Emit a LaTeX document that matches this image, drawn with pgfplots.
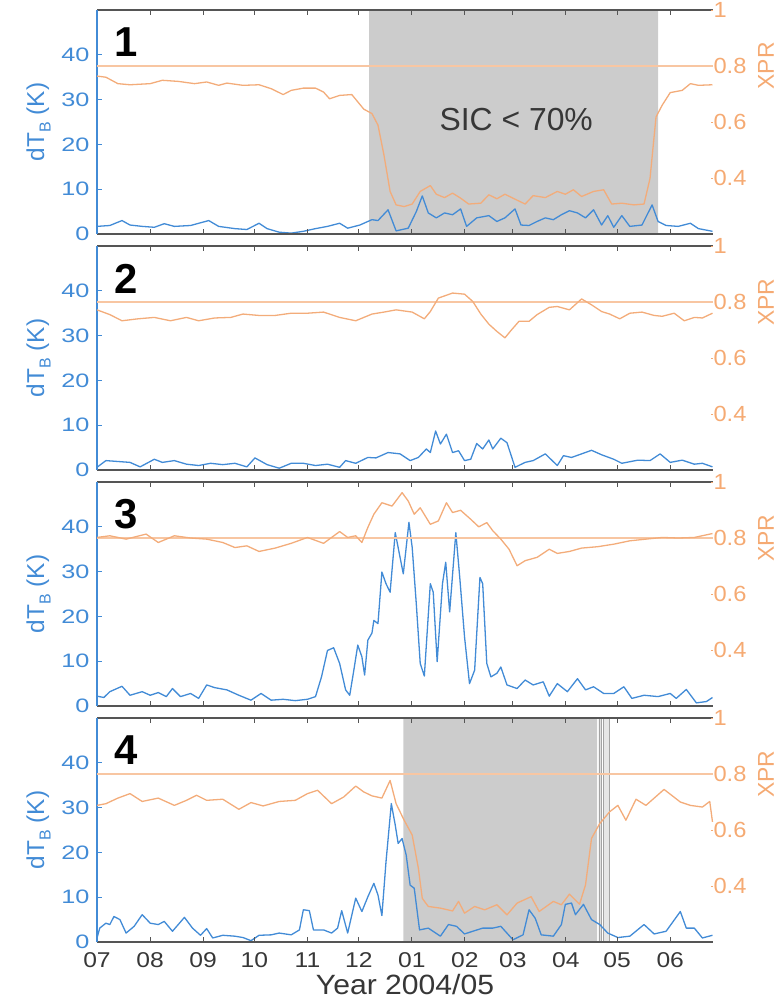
\documentclass[border=0pt]{standalone}
\usepackage{pgfplots}
\usepackage{pgfplotstable}
\pgfplotsset{compat=1.18}
\usepackage{fontspec}
\setmainfont{Liberation Sans}
\newfontfamily\tickfontA[FakeStretch=1.3]{Liberation Sans}
\newfontfamily\tickfontB[FakeStretch=1.15]{Liberation Sans}
\newfontfamily\tickfontC[FakeStretch=1.08]{Liberation Sans}
\definecolor{blueL}{RGB}{66,139,214}
\definecolor{orangeC}{RGB}{243,172,122}
\definecolor{orangeR}{RGB}{248,198,162}
\definecolor{orangeT}{RGB}{245,170,115}
\definecolor{shade}{RGB}{204,204,204}
\definecolor{framec}{RGB}{85,85,85}
\definecolor{darktext}{RGB}{55,55,55}

\pgfplotstableread{
d v
0 1.7
7.5 1.9
14.6 3.0
19.3 2.0
26.4 1.7
33.5 1.5
39.3 2.3
45.2 1.7
54.7 1.9
65.3 3.0
71.1 1.7
80.6 1.2
87.6 1.0
94.7 2.4
99.4 1.2
106.5 0.4
113.5 0.2
120.6 0.6
127.7 1.2
134.7 1.7
141.8 2.4
146.5 1.3
153.6 2.0
160.7 3.2
164.2 3.0
170.1 5.4
174.8 0.7
181.9 1.3
186.6 5.0
190.1 8.5
193.6 4.7
198.3 3.6
203.1 4.7
207.8 4.3
212.5 5.6
216.0 1.7
221.9 3.6
229.0 4.1
233.7 2.8
238.4 3.6
244.3 5.6
247.8 2.0
252.5 1.9
257.2 2.8
262.0 3.6
266.7 3.2
271.4 4.3
276.1 5.2
280.8 4.7
285.5 3.6
290.2 5.4
294.9 2.0
298.5 4.1
302.0 1.5
306.7 4.1
311.4 1.7
318.5 2.0
324.4 6.5
327.9 2.8
332.6 1.9
339.7 1.7
346.8 2.4
351.5 1.2
359.7 0.6
}\pAblue
\pgfplotstableread{
d v
0 0.764
5.2 0.760
12.2 0.737
19.3 0.733
31.1 0.737
38.2 0.749
47.6 0.745
57.0 0.737
64.1 0.743
71.1 0.731
75.9 0.739
85.3 0.731
94.7 0.733
101.8 0.719
108.8 0.698
113.5 0.713
120.6 0.721
127.7 0.721
132.4 0.707
135.9 0.683
141.8 0.695
148.9 0.698
152.4 0.672
155.9 0.646
160.7 0.630
164.2 0.589
167.7 0.482
171.3 0.352
174.8 0.304
179.5 0.298
184.2 0.307
188.9 0.352
194.8 0.373
198.3 0.342
203.1 0.330
207.8 0.346
212.5 0.328
217.2 0.307
224.3 0.310
229.0 0.340
233.7 0.326
238.4 0.342
243.1 0.328
250.2 0.307
254.9 0.337
262.0 0.330
269.0 0.352
273.7 0.342
278.4 0.358
283.2 0.334
290.2 0.352
296.1 0.358
300.8 0.307
306.7 0.310
313.8 0.304
319.7 0.307
323.2 0.399
326.7 0.618
330.3 0.660
335.0 0.705
342.0 0.713
346.8 0.737
351.5 0.731
359.7 0.733
}\pAorange
\pgfplotstableread{
d v
0 0.6
5.2 2.1
12.2 1.9
19.3 1.7
25.2 0.7
33.5 2.4
38.2 1.7
45.2 2.1
52.3 1.3
59.4 1.0
66.4 1.5
73.5 1.2
80.6 1.5
87.6 0.7
92.3 2.7
99.4 1.2
106.5 0.4
113.5 1.5
120.6 1.5
127.7 1.0
134.7 1.3
141.8 0.6
145.3 2.1
151.2 1.5
158.3 2.8
163.0 2.7
170.1 3.9
177.1 3.6
183.0 2.1
187.8 2.8
192.5 4.7
194.8 3.9
197.9 8.7
200.7 5.8
204.2 8.0
207.8 3.9
211.3 4.3
214.8 2.1
218.4 2.4
221.9 5.9
225.4 4.7
229.0 6.7
231.3 4.7
236.0 7.1
239.6 6.1
244.3 0.6
250.2 1.7
254.9 2.1
262.0 3.6
269.0 1.0
272.6 3.2
277.3 2.8
283.2 3.6
289.0 4.4
294.9 3.4
302.0 2.4
306.7 1.5
316.1 2.2
323.2 2.1
329.1 3.6
335.0 1.7
342.0 2.2
349.1 1.3
353.8 1.5
359.7 0.7
}\pBblue
\pgfplotstableread{
d v
0 0.772
7.5 0.755
14.6 0.733
24.0 0.740
33.5 0.745
42.9 0.733
52.3 0.745
59.4 0.733
68.8 0.743
78.2 0.745
85.3 0.757
94.7 0.752
104.1 0.752
113.5 0.760
123.0 0.760
132.4 0.764
141.8 0.745
151.2 0.733
160.7 0.757
167.7 0.764
174.8 0.772
184.2 0.764
191.3 0.740
194.8 0.766
199.5 0.814
207.8 0.832
214.8 0.828
219.6 0.802
224.3 0.757
229.0 0.721
233.7 0.695
238.4 0.672
241.9 0.698
246.6 0.731
252.5 0.731
257.2 0.755
264.3 0.781
269.0 0.784
276.1 0.772
283.2 0.811
289.0 0.790
294.9 0.766
299.6 0.757
305.5 0.740
311.4 0.760
318.5 0.764
325.6 0.752
330.3 0.749
337.3 0.760
343.2 0.733
349.1 0.745
353.8 0.743
359.7 0.760
}\pBorange
\pgfplotstableread{
d v
0 2.2
4.0 1.9
7.5 3.2
14.6 4.4
19.3 2.4
26.4 3.2
31.1 2.4
35.8 3.0
40.5 2.1
44.1 3.9
48.8 2.1
54.7 2.8
59.4 1.7
64.1 4.7
68.8 4.1
75.9 3.6
82.9 2.4
90.0 1.3
95.9 2.8
101.8 1.3
108.8 1.5
115.9 1.2
123.0 1.5
127.7 2.1
131.2 6.5
134.7 12.4
138.3 13.0
141.8 9.5
145.3 3.6
147.7 2.4
150.1 8.0
152.4 13.6
154.8 11.0
156.4 6.9
158.3 14.7
160.7 16.3
161.8 19.1
164.2 18.4
166.5 29.9
168.9 27.3
171.3 25.4
174.3 38.7
177.1 33.2
179.0 29.5
182.3 41.0
184.2 35.4
186.6 22.8
188.9 9.5
191.3 6.7
194.8 27.3
196.5 25.4
198.8 9.9
201.9 27.3
203.8 32.1
206.1 21.0
209.7 38.7
212.0 28.7
214.8 15.4
217.7 5.0
220.7 8.0
223.8 28.7
225.4 27.3
227.8 9.5
230.2 6.5
233.7 7.3
236.0 8.7
239.6 4.7
245.5 3.9
250.2 5.8
254.9 4.7
260.8 5.4
264.3 2.2
269.0 5.0
274.9 3.2
280.8 6.1
285.5 3.6
290.2 4.3
296.1 2.8
302.0 2.8
307.9 4.3
312.6 1.7
319.7 2.4
327.9 2.1
335.0 2.8
338.5 1.7
344.4 3.7
350.3 0.7
356.2 1.0
359.7 1.9
}\pCblue
\pgfplotstableread{
d v
0 0.802
7.5 0.808
17.0 0.796
28.7 0.814
35.8 0.784
45.2 0.808
54.7 0.800
64.1 0.796
73.5 0.784
80.6 0.766
87.6 0.772
94.7 0.752
104.1 0.764
113.5 0.781
123.0 0.802
132.4 0.781
137.1 0.802
141.8 0.823
146.5 0.802
151.2 0.808
154.8 0.784
158.3 0.838
161.8 0.885
166.5 0.926
172.4 0.914
178.3 0.962
181.9 0.932
185.4 0.885
188.9 0.908
194.8 0.849
199.5 0.861
204.2 0.926
207.8 0.891
212.5 0.899
218.4 0.867
223.1 0.840
227.8 0.855
231.3 0.826
236.0 0.796
240.8 0.760
245.5 0.701
250.2 0.719
257.2 0.731
264.3 0.760
269.0 0.745
276.1 0.752
283.2 0.764
292.6 0.769
302.0 0.778
311.4 0.790
320.8 0.796
330.3 0.802
339.7 0.800
349.1 0.802
359.7 0.816
}\pCorange
\pgfplotstableread{
d v
0 0.9
1.6 3.1
5.2 4.2
7.5 3.9
9.9 5.7
13.4 5.0
17.0 2.0
21.7 3.5
26.4 6.1
31.1 4.2
35.8 3.9
39.3 4.6
44.1 2.4
51.1 5.5
55.8 3.1
60.5 1.5
64.1 3.0
67.6 0.9
73.5 1.5
80.6 1.3
85.3 1.0
90.0 0.3
94.7 1.5
101.8 1.6
106.5 2.0
113.5 1.6
118.3 2.7
120.6 7.2
124.1 7.0
126.5 2.7
132.4 2.7
137.1 2.0
140.6 3.1
143.0 7.0
146.5 2.0
151.2 9.8
154.8 6.8
158.3 10.1
161.8 13.1
164.2 10.5
166.5 5.9
168.9 17.9
172.0 30.9
174.3 26.1
176.0 22.0
178.3 23.1
180.7 19.4
183.0 12.7
185.4 12.0
188.5 2.7
193.6 3.1
200.7 1.3
205.4 3.9
210.1 3.5
214.8 1.8
219.6 2.4
225.4 3.1
231.3 3.1
236.0 3.5
243.1 0.5
249.0 1.6
252.5 7.2
256.1 5.3
259.6 1.6
266.7 1.3
271.4 3.9
273.7 8.4
277.3 8.7
279.6 6.1
284.3 8.4
289.0 5.0
293.8 3.9
298.5 2.0
304.4 1.0
311.4 1.3
319.7 3.9
325.6 1.8
332.6 2.4
340.9 6.8
344.4 3.1
349.1 3.1
353.8 0.9
359.7 1.5
}\pDblue
\pgfplotstableread{
d v
0 0.688
5.2 0.694
12.2 0.714
19.3 0.730
26.4 0.702
35.8 0.714
45.2 0.688
52.3 0.706
58.2 0.724
64.1 0.706
73.5 0.710
82.9 0.674
90.0 0.698
97.1 0.686
106.5 0.702
115.9 0.706
123.0 0.730
128.9 0.742
137.1 0.694
144.2 0.718
151.2 0.757
155.9 0.736
160.7 0.722
166.5 0.714
171.3 0.777
174.8 0.694
179.5 0.635
184.2 0.582
187.8 0.464
190.1 0.356
193.6 0.327
200.7 0.321
207.8 0.311
211.3 0.345
214.8 0.303
220.7 0.327
226.6 0.315
233.7 0.333
239.6 0.297
245.5 0.339
253.7 0.362
258.4 0.309
266.7 0.345
271.4 0.333
276.1 0.371
282.0 0.335
285.5 0.404
289.0 0.570
293.8 0.623
299.6 0.665
304.4 0.688
309.1 0.635
315.0 0.710
320.8 0.688
331.4 0.745
340.9 0.700
346.8 0.688
353.8 0.682
358.1 0.702
359.7 0.629
}\pDorange

\tikzset{pnum/.style={anchor=west, font=\bfseries\fontsize{42}{42}\selectfont, text=black}}
\pgfplotsset{
  base/.style={scale only axis, width=616bp, height=224bp, xmin=0, xmax=360,
    anchor=south west, clip mode=individual,
    xtick={0,31,62,92,123,153,184,215,243,274,304,335},
    /pgf/number format/assume math mode=true,
    tick align=inside, major tick length=5bp},
  leftax/.style={base, ymin=0, ymax=50, axis on top,
    separate axis lines,
    axis x line*=box, axis y line*=left,
    ytick={0,10,20,30,40},
    x axis line style={draw=framec, line width=1.6bp},
    y axis line style={draw=blueL, line width=1.4bp},
    xtick style={draw=framec, line width=1bp},
    ytick style={draw=blueL, line width=1bp},
    yticklabel style={font=\tickfontA\fontsize{19.5}{19.5}\selectfont, text=blueL, xshift=-4bp},
    xticklabel style={font=\tickfontB\fontsize{21.5}{21.5}\selectfont, text=darktext, yshift=-7bp},
    xticklabels={},
    ylabel={\fontsize{24.5}{24.5}\selectfont dT\raisebox{-0.5ex}{\fontsize{16}{16}\selectfont B} (K)},
    ylabel style={at={(rel axis cs:-0.095,0.5)}, anchor=center, text=blueL}},
  rightax/.style={base, ymin=0.2, ymax=1, axis x line=none, axis y line*=right,
    y axis line style={draw=none},
    ytick={0.4,0.6,0.8,1}, major tick length=2bp,
    ytick style={draw=orangeT, line width=0.8bp},
    yticklabel style={font=\tickfontC\fontsize{22}{22}\selectfont, text=orangeT, xshift=-3bp},
    ylabel={\fontsize{23}{23}\selectfont XPR},
    ylabel style={at={(rel axis cs:1.086,0.75)}, anchor=center, text=orangeT}},
  blueline/.style={color=blueL, line width=1.3bp, line join=round},
  orangeline/.style={color=orangeC, line width=1.3bp, line join=round},
  refline/.style={color=orangeR, line width=2.4bp}
}

\begin{document}
\begin{tikzpicture}
\path[use as bounding box] (0bp,0bp) rectangle (783bp,-999bp);

% Panel 1
\begin{axis}[leftax, at={(97bp,-234bp)}]
\addplot[fill=shade, draw=none] coordinates {(159,0) (159,50) (328,50) (328,0)} \closedcycle;
\addplot[blueline] table[x=d,y=v] {\pAblue};
\node[pnum] at (rel axis cs:0.022,0.855) {1};
\node[font=\fontsize{32}{32}\selectfont, text=darktext] at (axis cs:245,25.5) {SIC < 70\%};
\end{axis}
\begin{axis}[rightax, at={(97bp,-234bp)}]
\addplot[refline] coordinates {(0,0.8) (360,0.8)};
\addplot[orangeline] table[x=d,y=v] {\pAorange};
\end{axis}

% Panel 2
\begin{axis}[leftax, at={(97bp,-470bp)}]
\addplot[blueline] table[x=d,y=v] {\pBblue};
\node[pnum] at (rel axis cs:0.022,0.855) {2};
\end{axis}
\begin{axis}[rightax, at={(97bp,-470bp)}]
\addplot[refline] coordinates {(0,0.8) (360,0.8)};
\addplot[orangeline] table[x=d,y=v] {\pBorange};
\end{axis}

% Panel 3
\begin{axis}[leftax, at={(97bp,-706bp)}]
\addplot[blueline] table[x=d,y=v] {\pCblue};
\node[pnum] at (rel axis cs:0.022,0.855) {3};
\end{axis}
\begin{axis}[rightax, at={(97bp,-706bp)}]
\addplot[refline] coordinates {(0,0.8) (360,0.8)};
\addplot[orangeline] table[x=d,y=v] {\pCorange};
\end{axis}

% Panel 4
\begin{axis}[leftax, at={(97bp,-942bp)},
  xticklabels={07,08,09,10,11,12,01,02,03,04,05,06},
  xlabel={Year 2004/05},
  xlabel style={font=\tickfontC\fontsize{28}{28}\selectfont, text=darktext, at={(rel axis cs:0.5,-0.19)}, anchor=center}]
\addplot[fill=shade, draw=none] coordinates {(179,0) (179,50) (292.3,50) (292.3,0)} \closedcycle;
\addplot[fill=shade!60, draw=shade!80!black, line width=0.4bp] coordinates {(293.2,0) (293.2,50) (294.4,50) (294.4,0)} \closedcycle;
\addplot[fill=shade!50, draw=shade!80!black, line width=0.5bp] coordinates {(296.0,0) (296.0,50) (299.6,50) (299.6,0)} \closedcycle;
\addplot[blueline] table[x=d,y=v] {\pDblue};
\node[pnum] at (rel axis cs:0.022,0.855) {4};
\end{axis}
\begin{axis}[rightax, at={(97bp,-942bp)}]
\addplot[refline] coordinates {(0,0.8) (360,0.8)};
\addplot[orangeline] table[x=d,y=v] {\pDorange};
\end{axis}
\end{tikzpicture}
\end{document}
